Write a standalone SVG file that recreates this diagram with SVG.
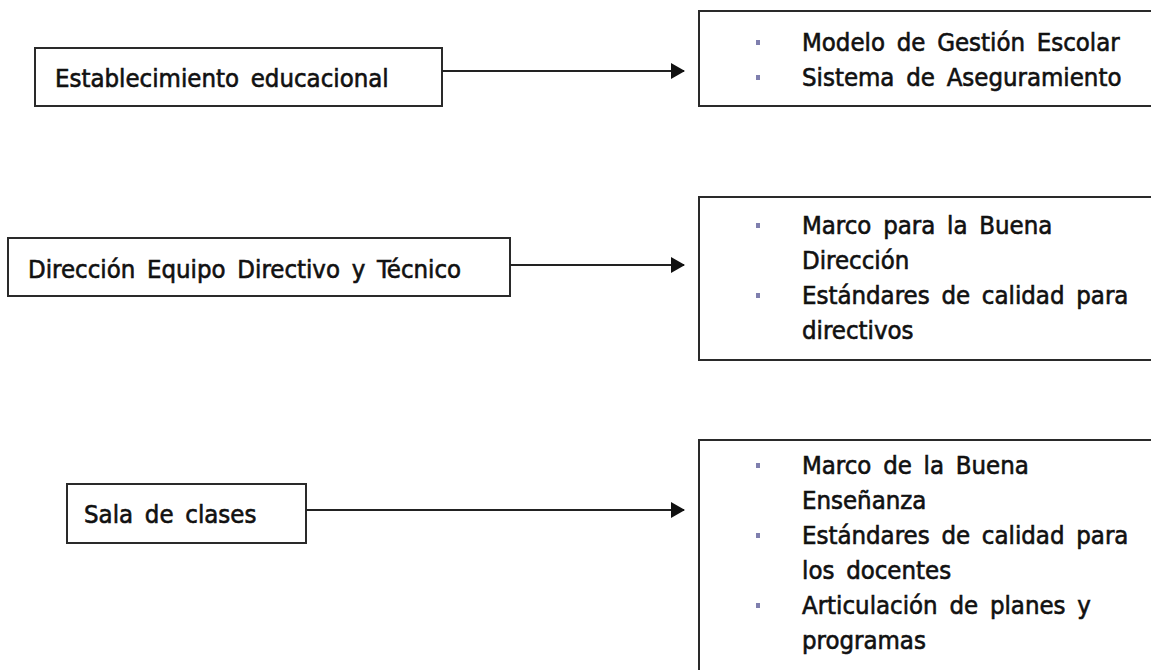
<svg xmlns="http://www.w3.org/2000/svg" width="1151" height="670" viewBox="0 0 1151 670">
<defs>
<marker id="arr" viewBox="0 0 14 16" refX="13" refY="8" markerWidth="14" markerHeight="16" markerUnits="userSpaceOnUse" orient="auto">
<path d="M0,0 L14,8 L0,16 Z" fill="#111"/>
</marker>
</defs>
<style>
.box{fill:#fff;stroke:#2a2a2a;stroke-width:2}
.t{font-family:"DejaVu Sans Condensed","DejaVu Sans",sans-serif;font-stretch:condensed;font-size:25.5px;word-spacing:4.5px;fill:#111;stroke:#111;stroke-width:0.6}
.b{fill:#7f7fae}
.c{stroke:#222;stroke-width:2;fill:none}
</style>
<rect width="1151" height="670" fill="#fff"/>
<g id="n1">
<rect class="box" x="35" y="48" width="407" height="58"/>
<text class="t" x="55" y="87">Establecimiento educacional</text>
</g>
<g id="r1">
<rect class="box" x="699" y="11" width="460" height="95"/>
<rect class="b" x="756" y="40" width="4" height="5"/>
<rect class="b" x="756" y="75" width="4" height="5"/>
<text class="t" x="802" y="51">Modelo de Gestión Escolar</text>
<text class="t" x="802" y="86">Sistema de Aseguramiento</text>
</g>
<g id="n2">
<rect class="box" x="8" y="238" width="502" height="58"/>
<text class="t" x="28" y="278">Dirección Equipo Directivo y Técnico</text>
</g>
<g id="r2">
<rect class="box" x="699" y="197" width="460" height="163"/>
<rect class="b" x="756" y="223" width="4" height="5"/>
<rect class="b" x="756" y="293" width="4" height="5"/>
<text class="t" x="802" y="234">Marco para la Buena</text>
<text class="t" x="802" y="269">Dirección</text>
<text class="t" x="802" y="304">Estándares de calidad para</text>
<text class="t" x="802" y="339">directivos</text>
</g>
<g id="n3">
<rect class="box" x="67" y="484" width="239" height="59"/>
<text class="t" x="84" y="523">Sala de clases</text>
</g>
<g id="r3">
<rect class="box" x="699" y="440" width="460" height="240"/>
<rect class="b" x="756" y="463" width="4" height="5"/>
<rect class="b" x="756" y="533" width="4" height="5"/>
<rect class="b" x="756" y="603" width="4" height="5"/>
<text class="t" x="802" y="474">Marco de la Buena</text>
<text class="t" x="802" y="509">Enseñanza</text>
<text class="t" x="802" y="544">Estándares de calidad para</text>
<text class="t" x="802" y="579">los docentes</text>
<text class="t" x="802" y="614">Articulación de planes y</text>
<text class="t" x="802" y="649">programas</text>
</g>
<g id="connectors">
<line class="c" x1="442" y1="71" x2="684" y2="71" marker-end="url(#arr)"/>
<line class="c" x1="510" y1="265" x2="684" y2="265" marker-end="url(#arr)"/>
<line class="c" x1="306" y1="510" x2="684" y2="510" marker-end="url(#arr)"/>
</g>
</svg>
